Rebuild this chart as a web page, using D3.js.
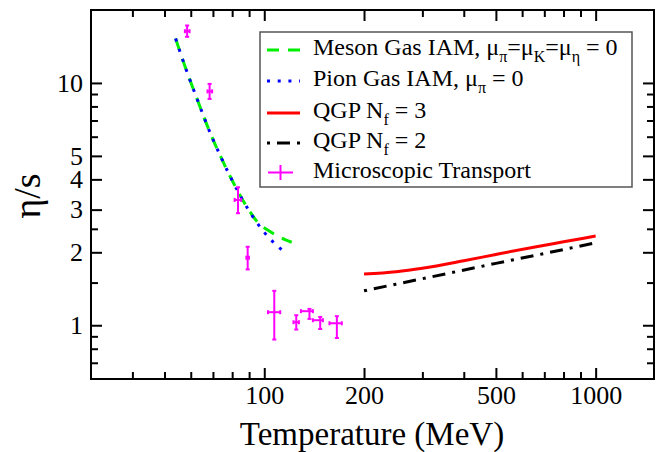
<!DOCTYPE html>
<html><head><meta charset="utf-8">
<script src="https://cdn.jsdelivr.net/npm/d3@7"></script>
<style>body{margin:0;background:#fff} text{font-family:"Liberation Serif","Times New Roman",serif;fill:#000}</style>
</head><body><svg id="c" width="657" height="452"></svg>
<script>
// ---- data ----
const mesonT = [54.0, 58.1, 62.7, 67.8, 74.0, 81.6, 90.7, 96.0, 103.5, 110.0, 116.0, 121.0];
const mesonV = [15.25, 11.35, 8.59, 6.49, 4.94, 3.76, 2.93, 2.64, 2.45, 2.33, 2.25, 2.2];
const pionT = [54.0, 58.1, 62.7, 67.8, 74.0, 81.6, 90.7, 98.8, 109.2, 115.4];
const pionV = [15.25, 11.35, 8.59, 6.49, 4.94, 3.76, 2.915, 2.47, 2.13, 2.005];
const qgp3T = [200, 250, 300, 400, 500, 650, 800, 1000];
const qgp3V = [1.626, 1.663, 1.718, 1.845, 1.96, 2.10, 2.21, 2.335];
const qgp2T = [200, 300, 500, 700, 1000];
const qgp2V = [1.387, 1.556, 1.80, 1.977, 2.19];
const transT   = [58.5, 68.4, 83.3, 89.1, 107.2, 124.9, 136.9, 147.5, 165.6];
const transTLo = [57.6, 67.4, 81.4, 88.3, 102.6, 122.5, 129.0, 140.2, 157.3];
const transTHi = [59.5, 69.6, 85.2, 89.9, 111.7, 127.2, 140.2, 150.3, 171.4];
const transV   = [16.35, 9.23, 3.29, 1.90, 1.132, 1.029, 1.143, 1.049, 1.019];
const transVLo = [15.5, 8.59, 2.90, 1.70, 0.873, 0.96, 1.062, 0.965, 0.886];
const transVHi = [17.26, 9.91, 3.71, 2.108, 1.387, 1.10, 1.168, 1.082, 1.09];
const xMajor = [100, 200, 500, 1000];
const xMinor = [40, 50, 60, 70, 80, 90, 300, 400, 600, 700, 800, 900];
const yMajor = [1, 2, 3, 4, 5, 10];
const yMinor = [0.7, 0.8, 0.9, 1.5, 2.5, 6, 7, 8, 9];
const xTitle = "Temperature (MeV)";
const yTitle = "η/s";

// ---- chart ----
const svg = d3.select("#c");
const L = 91, R = 654, T = 10, B = 379;
const x = d3.scaleLog().domain([30, 1500]).range([L, R]);
const y = d3.scaleLog().domain([0.6, 20]).range([B, T]);

svg.append("clipPath").attr("id", "clip").append("rect")
  .attr("x", L).attr("y", T).attr("width", R - L).attr("height", B - T);

function ax(gen, tr, vals, size, labels) {
  const g = svg.append("g").attr("transform", tr)
    .call(gen.tickValues(vals).tickSizeInner(-size).tickSizeOuter(0)
      .tickPadding(labels ? 7 : 0).tickFormat(labels ? d3.format("d") : () => ""));
  g.select(".domain").remove();
  g.selectAll("line").attr("stroke", "#000").attr("stroke-width", 2);
  g.selectAll("text").attr("font-size", 26).attr("fill", "#000")
    .style("font-family", '"Liberation Serif", serif');
  return g;
}
ax(d3.axisBottom(x), `translate(0,${B})`, xMajor, 11, true);
ax(d3.axisBottom(x), `translate(0,${B})`, xMinor, 7, false);
ax(d3.axisTop(x), `translate(0,${T})`, xMajor, 11, false);
ax(d3.axisTop(x), `translate(0,${T})`, xMinor, 7, false);
ax(d3.axisLeft(y), `translate(${L},0)`, yMajor, 11, true).selectAll("text").attr("x", -8);
ax(d3.axisLeft(y), `translate(${L},0)`, yMinor, 7, false);
ax(d3.axisRight(y), `translate(${R},0)`, yMajor, 11, false);
ax(d3.axisRight(y), `translate(${R},0)`, yMinor, 7, false);

svg.append("rect").attr("x", L).attr("y", T).attr("width", R - L).attr("height", B - T)
  .attr("fill", "none").attr("stroke", "#000").attr("stroke-width", 2);

const plot = svg.append("g").attr("clip-path", "url(#clip)");
const line = d3.line().x(d => x(d[0])).y(d => y(d[1])).curve(d3.curveMonotoneX);

plot.append("path").datum(mesonT.map((t, i) => [t, mesonV[i]])).attr("d", line)
  .attr("fill", "none").attr("stroke", "#00ee00").attr("stroke-width", 3).attr("stroke-dasharray", "12,9");
plot.append("path").datum(pionT.map((t, i) => [t, pionV[i]])).attr("d", line)
  .attr("fill", "none").attr("stroke", "#0000ff").attr("stroke-width", 3).attr("stroke-dasharray", "3,7.7");
plot.append("path").datum(qgp3T.map((t, i) => [t, qgp3V[i]])).attr("d", line)
  .attr("fill", "none").attr("stroke", "#ff0000").attr("stroke-width", 3);
plot.append("path").datum(qgp2T.map((t, i) => [t, qgp2V[i]])).attr("d", line)
  .attr("fill", "none").attr("stroke", "#000").attr("stroke-width", 3).attr("stroke-dasharray", "3,7,13,7");

const eb = plot.append("g").attr("stroke", "#ff00ff").attr("stroke-width", 2);
transT.forEach((t, i) => {
  const cx = x(t), cy = y(transV[i]);
  const y1 = y(transVHi[i]), y2 = y(transVLo[i]);
  const x1 = x(transTLo[i]), x2 = x(transTHi[i]);
  eb.append("line").attr("x1", cx).attr("x2", cx).attr("y1", y1).attr("y2", y2);
  eb.append("line").attr("x1", x1).attr("x2", x2).attr("y1", cy).attr("y2", cy);
  eb.append("line").attr("x1", cx - 2).attr("x2", cx + 2).attr("y1", y1).attr("y2", y1);
  eb.append("line").attr("x1", cx - 2).attr("x2", cx + 2).attr("y1", y2).attr("y2", y2);
  eb.append("line").attr("x1", x1).attr("x2", x1).attr("y1", cy - 2).attr("y2", cy + 2);
  eb.append("line").attr("x1", x2).attr("x2", x2).attr("y1", cy - 2).attr("y2", cy + 2);
});

// ---- legend ----
const lg = svg.append("g");
lg.append("rect").attr("x", 260).attr("y", 32).attr("width", 372).attr("height", 155)
  .attr("fill", "#fff").attr("stroke", "#555").attr("stroke-width", 1.5);
const rows = [
  {y: 50, stroke: "#00ee00", dash: "12,9", parts: [["Meson Gas IAM, μ"], ["π", 1], ["=μ"], ["K", 1], ["=μ"], ["η", 1], [" = 0"]]},
  {y: 81, stroke: "#0000ff", dash: "3,7.7", parts: [["Pion Gas IAM, μ"], ["π", 1], [" = 0"]]},
  {y: 113, stroke: "#ff0000", dash: null, parts: [["QGP N"], ["f", 1], [" = 3"]]},
  {y: 143, stroke: "#000", dash: "3,7,13,7", parts: [["QGP N"], ["f", 1], [" = 2"]]},
  {y: 172.5, stroke: null, parts: [["Microscopic Transport"]]}
];
rows.forEach(r => {
  if (r.stroke) {
    lg.append("line").attr("x1", 267).attr("x2", 300).attr("y1", r.y).attr("y2", r.y)
      .attr("stroke", r.stroke).attr("stroke-width", 3).attr("stroke-dasharray", r.dash);
  } else {
    lg.append("line").attr("x1", 268).attr("x2", 293).attr("y1", r.y).attr("y2", r.y).attr("stroke", "#ff00ff").attr("stroke-width", 2);
    lg.append("line").attr("x1", 280.5).attr("x2", 280.5).attr("y1", r.y - 7.5).attr("y2", r.y + 7.5).attr("stroke", "#ff00ff").attr("stroke-width", 2);
  }
  const t = lg.append("text").attr("x", 313).attr("y", r.y + 5).attr("font-size", 24);
  let sub = false;
  r.parts.forEach(p => {
    const s = t.append("tspan").text(p[0]);
    if (p[1]) { s.attr("font-size", 16).attr("dy", 7); sub = true; }
    else if (sub) { s.attr("dy", -7); sub = false; }
  });
});

// ---- titles ----
svg.append("text").attr("x", 372).attr("y", 445).attr("text-anchor", "middle")
  .attr("font-size", 33).text(xTitle);
svg.append("text").attr("transform", "translate(40,196) rotate(-90)").attr("text-anchor", "middle")
  .attr("font-size", 38).text(yTitle);
</script></body></html>
